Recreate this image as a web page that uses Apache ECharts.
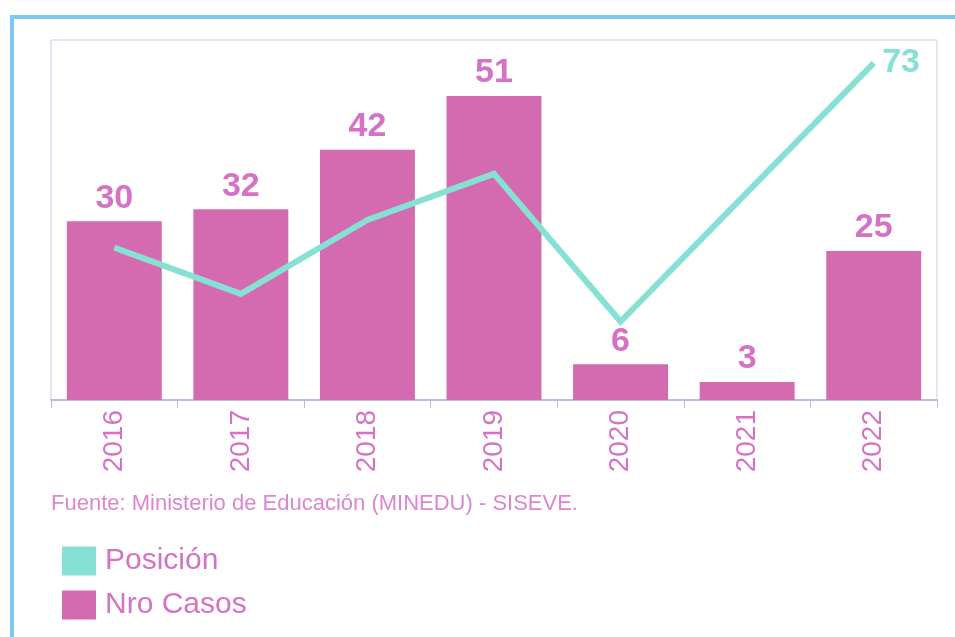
<!DOCTYPE html>
<html>
<head>
<meta charset="utf-8">
<script src="https://cdn.jsdelivr.net/npm/echarts@6/dist/echarts.min.js"></script>
<style>
  html, body { margin: 0; padding: 0; background: #fff; }
  #chart { width: 955px; height: 637px; }
</style>
</head>
<body>
<div id="chart"></div>
<script>
// data
const years = ['2016', '2017', '2018', '2019', '2020', '2021', '2022'];
const nroCasos = [30, 32, 42, 51, 6, 3, 25];
// only the last value is printed; the rest are estimated from the line
const posicion = [33, 23, 39, 49, 17, 45, 73];

const pink = '#d46aaf';
const textPink = '#d672c4';
const teal = '#86e0d3';
const font = 'Liberation Sans, Arial, sans-serif';

const chart = echarts.init(document.getElementById('chart'));

chart.setOption({
  animation: false,
  textStyle: { fontFamily: font },
  graphic: [
    {
      type: 'rect',
      shape: { x: 12, y: 17, width: 1000, height: 700 },
      style: { fill: 'none', stroke: '#80c8f0', lineWidth: 4 }
    },
    {
      type: 'text',
      left: 51, top: 493,
      style: {
        text: 'Fuente: Ministerio de Educación (MINEDU) - SISEVE.',
        fill: '#dc86d2', fontSize: 22, fontFamily: font
      }
    }
  ],
  legend: {
    orient: 'vertical',
    left: 57, top: 541,
    itemWidth: 34, itemHeight: 29, itemGap: 14,
    icon: 'rect',
    data: ['Posición', 'Nro Casos'],
    textStyle: { color: textPink, fontSize: 30, fontFamily: font, padding: [0, 0, 0, 4] }
  },
  grid: {
    left: 51, right: 18, top: 40, bottom: 237,
    show: true, borderColor: '#cccbe8', borderWidth: 1
  },
  xAxis: {
    type: 'category',
    data: years,
    axisLine: { lineStyle: { color: '#b9bde0', width: 2 } },
    axisTick: { show: true, length: 8, lineStyle: { color: '#b9bde0' } },
    axisLabel: { rotate: 90, margin: 10, color: textPink, fontSize: 28, fontFamily: font }
  },
  yAxis: [
    { type: 'value', min: 0, max: 60.4, show: false },
    { type: 'value', min: 0, max: 78, show: false }
  ],
  series: [
    {
      name: 'Nro Casos',
      type: 'bar',
      data: nroCasos,
      barCategoryGap: '25%',
      itemStyle: { color: pink },
      label: {
        show: true, position: 'top', distance: 6,
        color: textPink, fontSize: 34, fontWeight: 'bold', fontFamily: font
      }
    },
    {
      name: 'Posición',
      type: 'line',
      yAxisIndex: 1,
      data: posicion.map((v, i) => i === posicion.length - 1
        ? { value: v, label: { show: true } }
        : v),
      symbol: 'circle',
      symbolSize: 1,
      showAllSymbol: true,
      lineStyle: { color: teal, width: 6, join: 'miter' },
      itemStyle: { color: teal },
      label: {
        show: false, position: 'right', distance: 8,
        color: teal, fontSize: 34, fontWeight: 'bold', fontFamily: font
      }
    }
  ]
});
</script>
</body>
</html>
